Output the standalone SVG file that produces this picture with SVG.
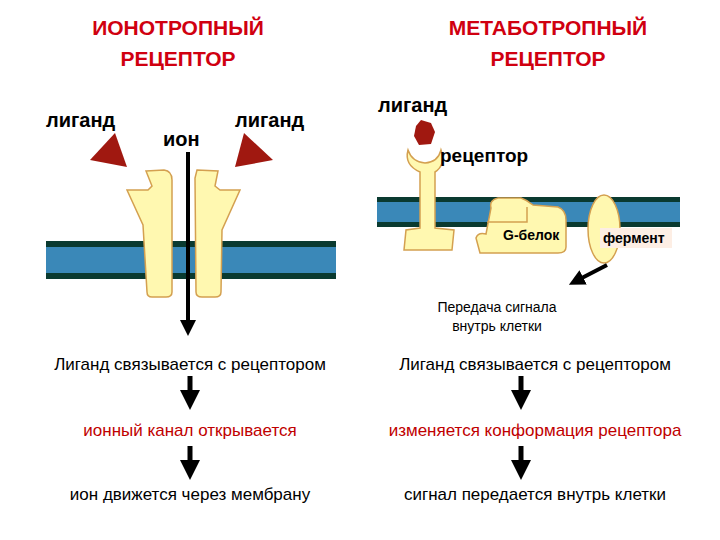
<svg xmlns="http://www.w3.org/2000/svg" width="720" height="540" viewBox="0 0 720 540">
<style>
text{font-family:"Liberation Sans",Arial,sans-serif;fill:#000}
.t{font-size:21px;font-weight:bold;fill:#d00010;text-anchor:middle}
.l{font-size:20px;font-weight:bold}
.s{font-size:17px;text-anchor:middle}
.r{font-size:17px;text-anchor:middle;fill:#c00000}
.p{fill:#fff8b0;stroke:#d4a050;stroke-width:1.5}
.dk{fill:#0a3a30}.bl{fill:#3a88b8}
.lig{fill:#a01810}
</style>
<defs>
<marker id="ah" markerWidth="4" markerHeight="4" refX="2" refY="2" orient="auto" markerUnits="strokeWidth"><path d="M0,0L4,2L0,4Z" fill="#000"/></marker>
</defs>
<rect width="720" height="540" fill="#fff"/>
<g id="titles">
<text class="t" x="178" y="35">ИОНОТРОПНЫЙ</text>
<text class="t" x="178" y="66">РЕЦЕПТОР</text>
<text class="t" x="548" y="35">МЕТАБОТРОПНЫЙ</text>
<text class="t" x="548" y="66">РЕЦЕПТОР</text>
</g>
<g id="membrane-left">
<rect class="dk" x="46" y="241" width="290" height="38"/>
<rect class="bl" x="46" y="247" width="290" height="26"/>
</g>
<g id="channel">
<path class="p" d="M146,171L164,170Q172,171 172,180L172,292Q172,297 166,297L152,297Q147,297 147,292L143,225L127,190L148,190L152,186Z"/>
<path class="p" d="M197,170L218,171L215,186L220,190L240,190L222,230L221,292Q221,297 215,297L202,297Q196,297 196,292L195,178Z"/>
</g>
<g id="ligands-left">
<path class="lig" d="M115,133L127,167L90,160Z"/>
<path class="lig" d="M244,133L273,160L235,167Z"/>
<text class="l" x="46" y="127">лиганд</text>
<text class="l" x="235" y="127">лиганд</text>
<text class="l" x="163" y="146">ион</text>
</g>
<g id="membrane-right">
<rect class="dk" x="377" y="197" width="303" height="30"/>
<rect class="bl" x="377" y="202" width="303" height="20"/>
</g>
<g id="metab">
<path class="lig" d="M421,120L431,123L435,132L431,144L419,145L414,136L416,126Z"/>
<path class="p" d="M408,150Q404,165 420,172L420,228L406,230L404,250L452,250L454,230L435,228L435,172Q446,165 441,150Q438,162 425,163Q412,162 408,150Z"/>
<path class="p" d="M491,208Q489,200 498,198L521,198Q527,200 533,205L558,207Q566,210 566,220L566,247Q566,253 558,253L480,253L476,238Q478,232 486,234Z"/>
<path d="M487,222L527,222L527,207" fill="none" stroke="#d4a050" stroke-width="1.5"/>
<ellipse class="p" cx="604" cy="229" rx="16" ry="34"/>
<rect x="600" y="228" width="72" height="20" fill="#fdeee4"/>
<text class="l" x="378" y="112">лиганд</text>
<text x="440" y="162" font-size="19" font-weight="bold">рецептор</text>
<text x="503" y="240" font-size="14" font-weight="bold">G-белок</text>
<text x="603" y="243" font-size="14" font-weight="bold">фермент</text>
<text x="497" y="312" font-size="14" text-anchor="middle">Передача сигнала</text>
<text x="497" y="331" font-size="14" text-anchor="middle">внутрь клетки</text>
</g>
<g id="connectors" stroke="#000" fill="none">
<line x1="188" y1="152" x2="188" y2="328" stroke-width="4" marker-end="url(#ah)"/>
<line x1="607" y1="265" x2="576" y2="281" stroke-width="4" marker-end="url(#ah)"/>
<line x1="190" y1="376" x2="190" y2="400" stroke-width="5" marker-end="url(#ah)"/>
<line x1="190" y1="446" x2="190" y2="470" stroke-width="5" marker-end="url(#ah)"/>
<line x1="521" y1="376" x2="521" y2="400" stroke-width="5" marker-end="url(#ah)"/>
<line x1="521" y1="446" x2="521" y2="470" stroke-width="5" marker-end="url(#ah)"/>
</g>
<g id="steps">
<text class="s" x="190" y="370">Лиганд связывается с рецептором</text>
<text class="r" x="190" y="436">ионный канал открывается</text>
<text class="s" x="190" y="500">ион движется через мембрану</text>
<text class="s" x="535" y="370">Лиганд связывается с рецептором</text>
<text class="r" x="535" y="436">изменяется конформация рецептора</text>
<text class="s" x="535" y="500">сигнал передается внутрь клетки</text>
</g>
</svg>
